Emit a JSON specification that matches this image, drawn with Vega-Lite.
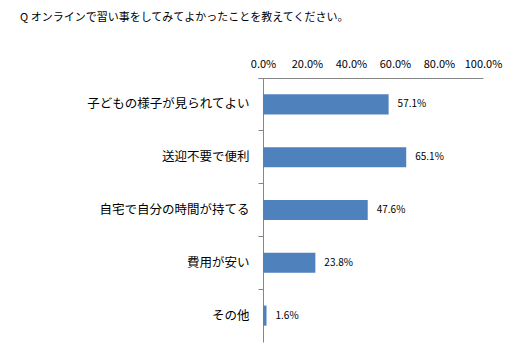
{
  "$schema": "https://vega.github.io/schema/vega-lite/v6.json",
  "width": 220,
  "height": 264,
  "autosize": {"type": "none"},
  "padding": {"left": 263, "top": 78, "right": 30, "bottom": 11},
  "background": "white",
  "title": {
    "text": "Q オンラインで習い事をしてみてよかったことを教えてください。",
    "anchor": "start",
    "frame": "group",
    "orient": "top",
    "dx": -243,
    "offset": 35,
    "fontSize": 11,
    "fontWeight": "normal",
    "color": "#000000",
    "font": "Noto Sans CJK JP"
  },
  "data": {
    "values": [
      {"item": "子どもの様子が見られてよい", "value": 0.571},
      {"item": "送迎不要で便利", "value": 0.651},
      {"item": "自宅で自分の時間が持てる", "value": 0.476},
      {"item": "費用が安い", "value": 0.238},
      {"item": "その他", "value": 0.016}
    ]
  },
  "encoding": {
    "y": {
      "field": "item",
      "type": "nominal",
      "sort": null,
      "scale": {"paddingInner": 0, "paddingOuter": 0},
      "axis": {
        "title": null,
        "orient": "left",
        "domainColor": "#868686",
        "tickColor": "#868686",
        "tickSize": 5,
        "bandPosition": 0,
        "tickExtra": true,
        "labelPadding": 9,
        "labelFontSize": 12.5,
        "labelFontWeight": "normal",
        "labelColor": "#000000",
        "labelFont": "Noto Sans CJK JP",
        "labelLimit": 300
      }
    },
    "x": {
      "field": "value",
      "type": "quantitative",
      "scale": {"domain": [0, 1], "nice": false},
      "axis": {
        "title": null,
        "orient": "top",
        "format": ".1%",
        "values": [0, 0.2, 0.4, 0.6, 0.8, 1.0],
        "grid": false,
        "ticks": false,
        "domainColor": "#868686",
        "labelPadding": 9,
        "labelFontSize": 11,
        "labelColor": "#000000",
        "labelFont": "Noto Sans CJK JP",
        "labelFlush": false
      }
    }
  },
  "layer": [
    {
      "mark": {"type": "bar", "color": "#4F81BD", "height": {"band": 0.38}}
    },
    {
      "mark": {"type": "text", "align": "left", "dx": 9, "fontSize": 10, "color": "#000000", "font": "Noto Sans CJK JP"},
      "encoding": {
        "text": {"field": "value", "type": "quantitative", "format": ".1%"}
      }
    }
  ],
  "config": {
    "view": {"stroke": null}
  }
}
